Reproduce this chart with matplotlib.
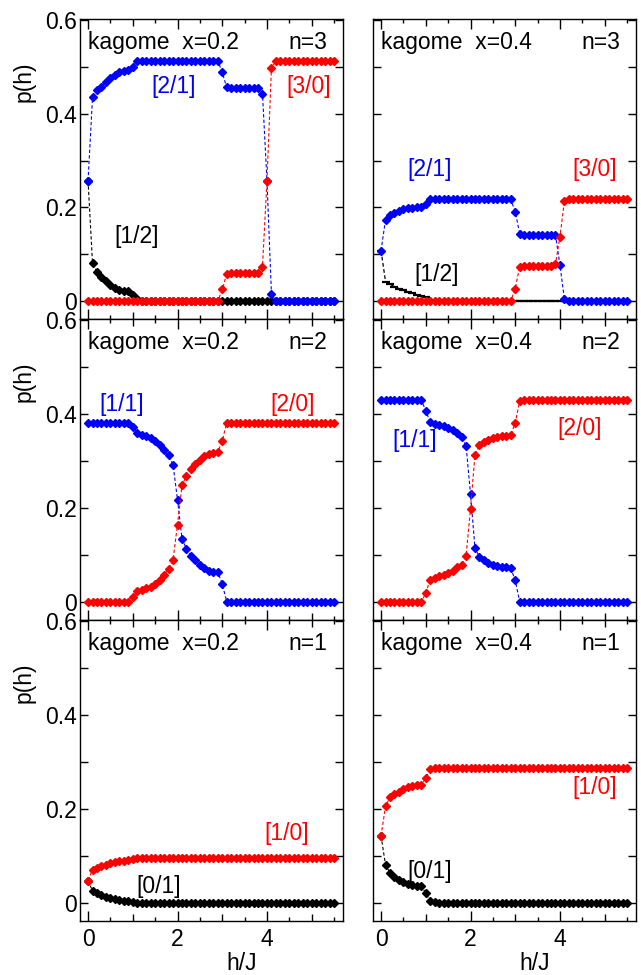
import numpy as np
import matplotlib
matplotlib.use('Agg')
import matplotlib.pyplot as plt
from matplotlib.ticker import MultipleLocator, FuncFormatter, FixedLocator

plt.rcParams['font.family'] = ['Liberation Sans', 'DejaVu Sans']

# ---------------- data (h/J grid 0.0 ... 5.5, step 0.1) ----------------
h = np.round(np.arange(56) * 0.1, 1)

# x=0.2, n=3
x02_n3_21 = ([0.257, 0.435, 0.450, 0.458, 0.467, 0.476, 0.483, 0.489, 0.492, 0.493, 0.499, 0.513]
             + [0.513] * 18 + [0.488, 0.456] + [0.455] * 7 + [0.443, 0.257, 0.016] + [0.0] * 14)
x02_n3_30 = ([0.0] * 30 + [0.025, 0.058] + [0.060] * 7 + [0.074, 0.257, 0.497] + [0.513] * 14)
x02_n3_12 = ([0.257, 0.081, 0.063, 0.052, 0.043, 0.035, 0.029, 0.024, 0.022, 0.021, 0.014, 0.004]
             + [0.0] * 44)

# x=0.4, n=3
x04_n3_21 = ([0.108, 0.174, 0.183, 0.189, 0.192, 0.196, 0.198, 0.199, 0.200, 0.201, 0.208, 0.217]
             + [0.217] * 18 + [0.191, 0.144] + [0.142] * 7 + [0.141, 0.077, 0.004] + [0.0] * 14)
x04_n3_30 = ([0.0] * 30 + [0.027, 0.074] + [0.076] * 7 + [0.079, 0.138, 0.214] + [0.217] * 14)
x04_n3_12 = ([0.108, 0.042, 0.036, 0.031, 0.027, 0.023, 0.020, 0.017, 0.014, 0.012, 0.010]
             + [0.0] * 45)

# x=0.2, n=2
x02_n2_11 = ([0.381] * 10 + [0.372, 0.359, 0.356, 0.353, 0.349, 0.343, 0.335, 0.324, 0.312, 0.292,
                             0.218, 0.135, 0.113, 0.099, 0.089, 0.079, 0.072, 0.067, 0.065, 0.064,
                             0.039, 0.001] + [0.0] * 24)
x02_n2_20 = ([0.0] * 10 + [0.010, 0.023, 0.026, 0.029, 0.033, 0.039, 0.047, 0.058, 0.070, 0.090,
                           0.165, 0.248, 0.269, 0.283, 0.293, 0.303, 0.310, 0.315, 0.317, 0.319,
                           0.343, 0.381] + [0.381] * 24)

# x=0.4, n=2
x04_n2_11 = ([0.430] * 10 + [0.407, 0.382, 0.379, 0.377, 0.374, 0.370, 0.365, 0.359, 0.351, 0.333,
                             0.230, 0.115, 0.096, 0.089, 0.084, 0.079, 0.076, 0.074, 0.074, 0.072,
                             0.046, 0.001] + [0.0] * 24)
x04_n2_20 = ([0.0] * 10 + [0.020, 0.048, 0.052, 0.055, 0.058, 0.062, 0.067, 0.074, 0.080, 0.098,
                           0.198, 0.313, 0.334, 0.340, 0.345, 0.349, 0.352, 0.353, 0.354, 0.356,
                           0.381, 0.428] + [0.430] * 24)

# x=0.2, n=1
x02_n1_10 = ([0.048, 0.071, 0.075, 0.078, 0.081, 0.085, 0.087, 0.089, 0.090, 0.091, 0.093, 0.096]
             + [0.096] * 44)
x02_n1_01 = ([0.048, 0.026, 0.022, 0.018, 0.014, 0.011, 0.009, 0.007, 0.005, 0.004, 0.002, 0.001]
             + [0.0] * 44)

# x=0.4, n=1
x04_n1_10 = ([0.143, 0.206, 0.225, 0.232, 0.237, 0.242, 0.246, 0.249, 0.251, 0.252, 0.266, 0.285]
             + [0.288] * 44)
x04_n1_01 = ([0.143, 0.081, 0.064, 0.055, 0.049, 0.045, 0.041, 0.039, 0.037, 0.036, 0.022, 0.004,
              0.002] + [0.0] * 43)

# series labels
panels = [
    # (row, col, x label, n label, [(values, color, marker, label, label_x, label_y), ...])
    (0, 0, 'x=0.2', 'n=3', [(x02_n3_12, 'black', 'D', '[1/2]', 1.09, 0.137),
                            (x02_n3_21, 'blue', 'D', '[2/1]', 1.92, 0.458),
                            (x02_n3_30, 'red', 'D', '[3/0]', 4.94, 0.458)]),
    (0, 1, 'x=0.4', 'n=3', [(x04_n3_12, 'black', '_', '[1/2]', 1.24, 0.056),
                            (x04_n3_21, 'blue', 'D', '[2/1]', 1.09, 0.280),
                            (x04_n3_30, 'red', 'D', '[3/0]', 4.78, 0.280)]),
    (1, 0, 'x=0.2', 'n=2', [(x02_n2_11, 'blue', 'D', '[1/1]', 0.75, 0.420),
                            (x02_n2_20, 'red', 'D', '[2/0]', 4.58, 0.420)]),
    (1, 1, 'x=0.4', 'n=2', [(x04_n2_11, 'blue', 'D', '[1/1]', 0.76, 0.343),
                            (x04_n2_20, 'red', 'D', '[2/0]', 4.45, 0.370)]),
    (2, 0, 'x=0.2', 'n=1', [(x02_n1_01, 'black', 'D', '[0/1]', 1.59, 0.036),
                            (x02_n1_10, 'red', 'D', '[1/0]', 4.44, 0.149)]),
    (2, 1, 'x=0.4', 'n=1', [(x04_n1_01, 'black', 'D', '[0/1]', 1.09, 0.068),
                            (x04_n1_10, 'red', 'D', '[1/0]', 4.78, 0.245)]),
]

# ---------------- figure ----------------
W, H = 641, 975
fig = plt.figure(figsize=(W / 100, H / 100), dpi=100)

col_left = [80, 373]
col_w = 263
row_top = [19, 319, 620]
row_h = [300, 301, 301]

FS = 16.5


def yfmt(v, pos):
    if abs(v) < 1e-9:
        return '0'
    return f'{v:.1f}'


def xfmt(v, pos):
    iv = int(round(v))
    return str(iv) if iv % 2 == 0 else ''


for row, col, xlab, nlab, series in panels:
    l = col_left[col] / W
    b = 1 - (row_top[row] + row_h[row]) / H
    ax = fig.add_axes([l, b, col_w / W, row_h[row] / H])
    ax.set_xlim(-0.18, 5.7)
    ax.set_ylim(-0.038, 0.602)

    for vals, color, mk, lab, lx, ly in series:
        if mk == '_':
            ax.plot(h, vals, color=color, lw=0.9, ls=(0, (3, 2)), marker='_', ms=6, mew=1.6)
        else:
            ax.plot(h, vals, color=color, lw=0.8, ls=(0, (3, 2)), marker='D', ms=3.8,
                    mec=color, mfc=color)
        ax.text(lx, ly, lab, color=color, fontsize=FS, ha='center', va='center')

    ax.text(0.03, 0.922, 'kagome  ' + xlab, transform=ax.transAxes, fontsize=FS,
            ha='left', va='center')
    ax.text(0.94, 0.922, nlab, transform=ax.transAxes, fontsize=FS, ha='right', va='center')

    for sp in ax.spines.values():
        sp.set_linewidth(1.0)

    ax.yaxis.set_major_locator(MultipleLocator(0.2))
    ax.yaxis.set_minor_locator(MultipleLocator(0.1))
    ax.yaxis.set_major_formatter(FuncFormatter(yfmt))
    ax.xaxis.set_major_locator(FixedLocator([0, 1, 2, 3, 4, 5]))
    ax.xaxis.set_minor_locator(FixedLocator([0.5, 1.5, 2.5, 3.5, 4.5, 5.5]))
    ax.xaxis.set_major_formatter(FuncFormatter(xfmt))

    ax.tick_params(which='both', direction='in', top=True, bottom=True, left=True, right=True,
                   width=1.0, labelsize=FS)
    ax.tick_params(axis='y', which='both', length=5.5, pad=2.5)
    ax.tick_params(axis='x', which='major', length=7, pad=5)
    ax.tick_params(axis='x', which='minor', length=3)
    ax.tick_params(labelleft=(col == 0), labelbottom=(row == 2))

    # odd integers get medium-length ticks
    for t, loc in zip(ax.xaxis.get_major_ticks(), [0, 1, 2, 3, 4, 5]):
        if loc % 2 == 1:
            t.tick1line.set_markersize(5)
            t.tick2line.set_markersize(5)

    if col == 0:
        ax.set_ylabel('p(h)', fontsize=FS)
        ax.yaxis.set_label_coords(-0.17, 0.79)
    if row == 2:
        ax.set_xlabel('h/J', fontsize=FS)
        ax.xaxis.set_label_coords(0.615, -0.102)

fig.savefig('out.png', dpi=100)
